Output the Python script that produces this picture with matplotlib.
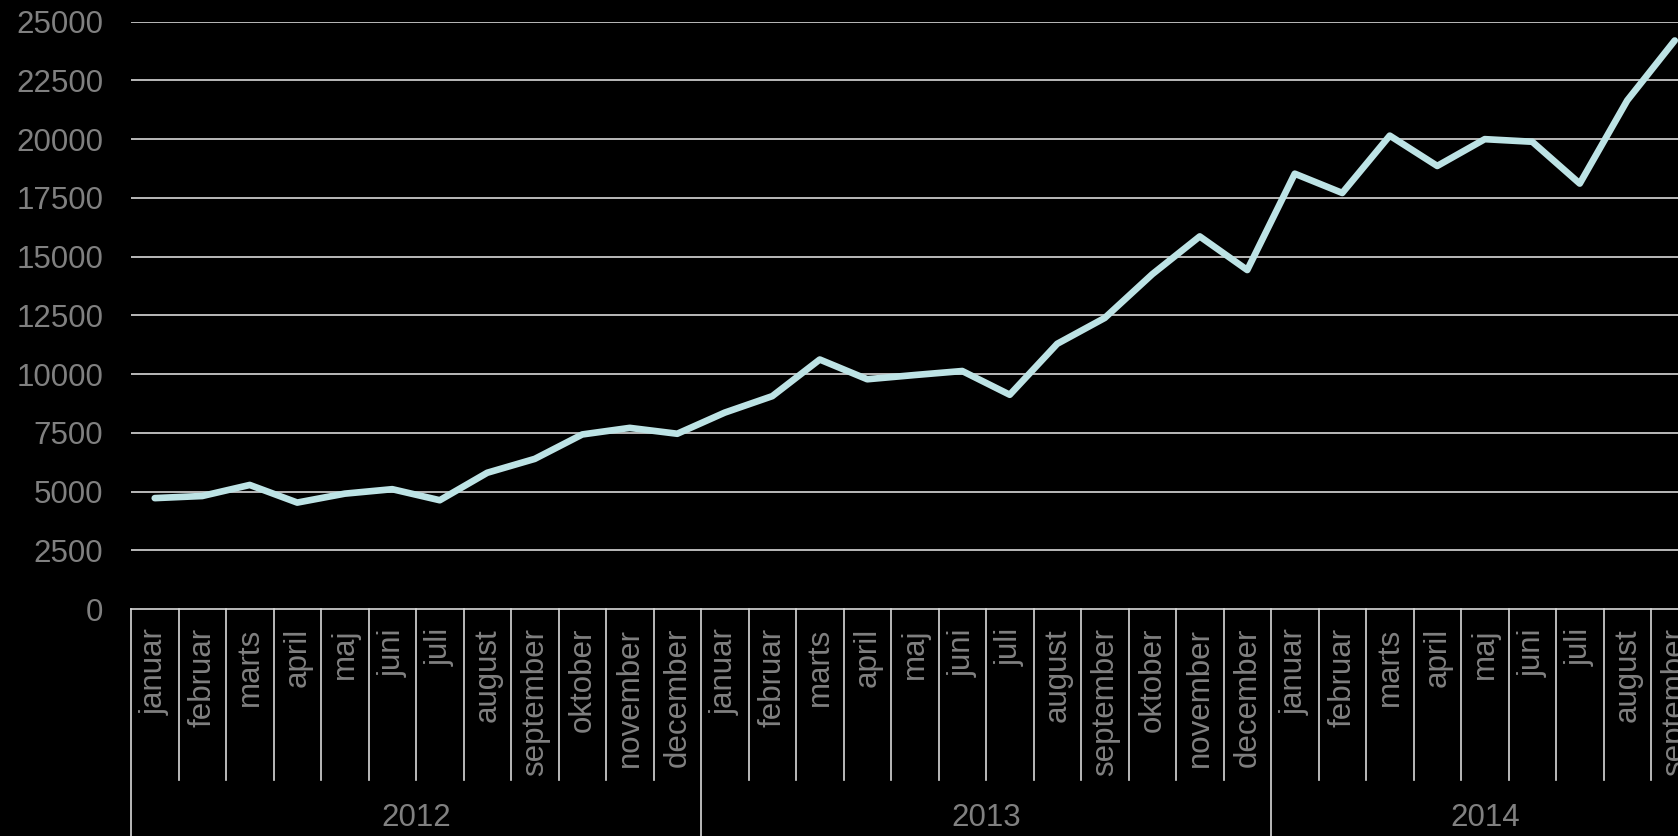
import numpy as np
import matplotlib
matplotlib.use("Agg")
import matplotlib.pyplot as plt

# monthly values
months = ["januar", "februar", "marts", "april", "maj", "juni", "juli",
          "august", "september", "oktober", "november", "december"]
month_labels = months + months + months[:9]
years = ["2012", "2013", "2014"]
year_counts = [12, 12, 9]
values = [4720, 4810, 5280, 4530, 4910, 5100, 4630, 5800, 6390, 7430, 7710, 7460,
          8360, 9060, 10620, 9780, 9960, 10130, 9120, 11290, 12390, 14250, 15860, 14430,
          18530, 17710, 20150, 18860, 20000, 19890, 18110, 21650, 24200]
yticks = list(range(0, 25001, 2500))

text_grey = "#808080"
grid_col = "#d9d9d9"
line_col = "#bde3e5"
fsize = 22.5

plt.rcParams["font.family"] = ["Liberation Sans", "DejaVu Sans"]

fig = plt.figure(figsize=(16.78, 8.36), dpi=100, facecolor="black")
# plot area runs past the right edge of the picture, like the original
ax = fig.add_axes([0.07807, 0.27153, 0.93415, 0.70251])
ax.set_facecolor("black")

x = np.arange(len(values))
ax.set_xlim(-0.5, len(values) - 0.5)
ax.set_ylim(0, 25000)
ax.set_yticks(yticks)
ax.set_yticklabels([str(t) for t in yticks])
ax.tick_params(axis="y", length=0, pad=20, labelcolor=text_grey, labelsize=fsize)
ax.set_xticks([])
for t in yticks[1:]:
    ax.axhline(t, color=grid_col, lw=1.2, zorder=1)

for s in ["top", "right", "left"]:
    ax.spines[s].set_visible(False)
ax.spines["bottom"].set_color(grid_col)
ax.spines["bottom"].set_linewidth(1.2)

ax.plot(x, values, color=line_col, lw=4.8, solid_joinstyle="round",
        solid_capstyle="round", zorder=3)

# two-level category axis
ax_h = 0.70251 * 836
tr = ax.get_xaxis_transform()
month_sep = -171 / ax_h
year_sep = -240 / ax_h
label_top = -19 / ax_h
year_y = -209 / ax_h

for i, lab in enumerate(month_labels):
    ax.text(i, label_top, lab, transform=tr, rotation=90, ha="center", va="top",
            color=text_grey, fontsize=fsize)

year_edges = np.cumsum([0] + year_counts) - 0.5
for b in np.arange(len(values) + 1) - 0.5:
    d = year_sep if b in year_edges else month_sep
    ax.plot([b, b], [0, d], transform=tr, color=grid_col, lw=1.2, clip_on=False)

for k, yr in enumerate(years):
    c = (year_edges[k] + year_edges[k + 1]) / 2
    ax.text(c, year_y, yr, transform=tr, ha="center", va="center",
            color=text_grey, fontsize=fsize)

fig.savefig("out.png", dpi=100, facecolor="black")
